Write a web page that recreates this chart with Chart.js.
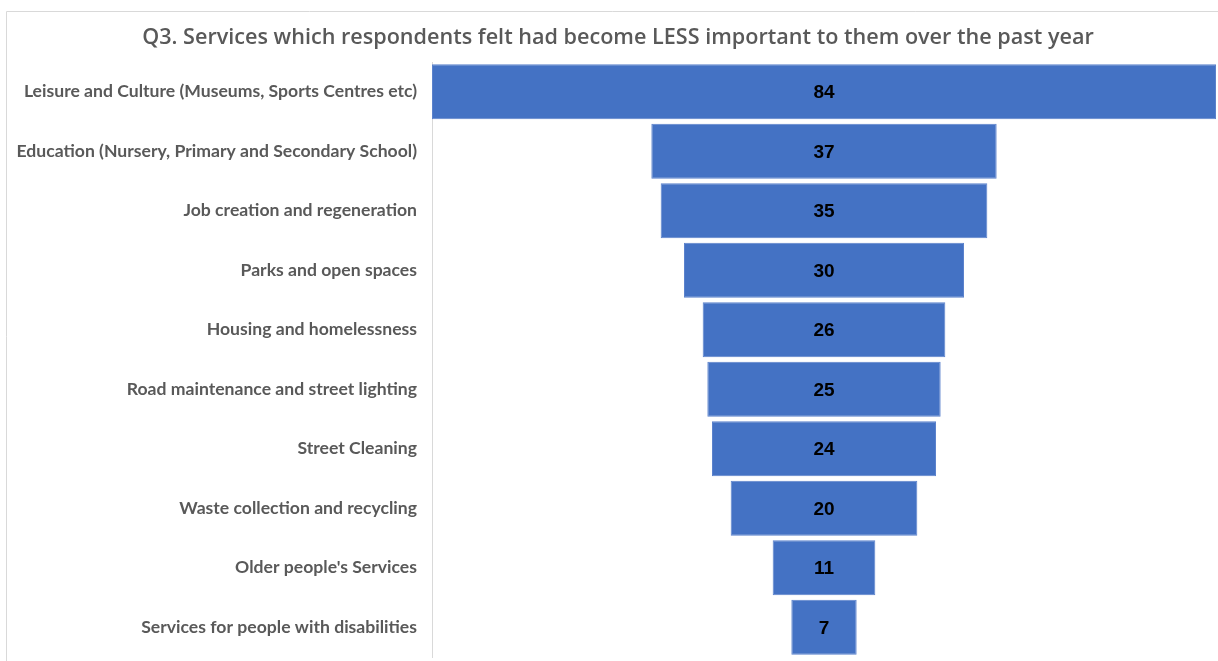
<!DOCTYPE html>
<html>
<head>
<meta charset="utf-8">
<script src="https://cdn.jsdelivr.net/npm/chart.js@4/dist/chart.umd.min.js"></script>
<style>
  html, body { margin: 0; padding: 0; background: #ffffff; overflow: hidden; }
  #wrap { position: relative; width: 1218px; height: 661px; }
  canvas { display: block; }
</style>
</head>
<body>
<div id="wrap"><canvas id="c" width="1218" height="661"></canvas></div>
<script>
const titleText = "Q3. Services which respondents felt had become LESS important to them over the past year";
const categories = [
  "Leisure and Culture (Museums, Sports Centres etc)",
  "Education (Nursery, Primary and Secondary School)",
  "Job creation and regeneration",
  "Parks and open spaces",
  "Housing and homelessness",
  "Road maintenance and street lighting",
  "Street Cleaning",
  "Waste collection and recycling",
  "Older people's Services",
  "Services for people with disabilities"
];
const values = [84, 37, 35, 30, 26, 25, 24, 20, 11, 7];
const maxValue = 84;

const framePlugin = {
  id: 'frame',
  beforeDraw(chart) {
    const ctx = chart.ctx;
    ctx.save();
    ctx.strokeStyle = '#d9d9d9';
    ctx.lineWidth = 1;
    ctx.beginPath();
    ctx.moveTo(6.5, 661);
    ctx.lineTo(6.5, 11.5);
    ctx.lineTo(1218, 11.5);
    ctx.stroke();
    ctx.restore();
  },
  afterDraw(chart) {
    const ctx = chart.ctx;
    ctx.save();
    ctx.font = '600 21.6px "Open Sans", "Noto Sans", sans-serif';
    ctx.fillStyle = '#595959';
    ctx.textAlign = 'center';
    ctx.textBaseline = 'middle';
    ctx.fillText(titleText, 618, 38);
    ctx.restore();
  }
};

const labelPlugin = {
  id: 'valueLabels',
  afterDatasetsDraw(chart) {
    const ctx = chart.ctx;
    const meta = chart.getDatasetMeta(0);
    ctx.save();
    ctx.font = 'bold 19px "Liberation Sans", Arial, sans-serif';
    ctx.fillStyle = '#000000';
    ctx.textAlign = 'center';
    ctx.textBaseline = 'middle';
    meta.data.forEach((bar, i) => {
      const cx = (bar.x + bar.base) / 2;
      ctx.fillText(String(values[i]), cx, bar.y + 1.5);
    });
    ctx.restore();
  }
};

new Chart(document.getElementById('c'), {
  type: 'bar',
  data: {
    labels: categories,
    datasets: [{
      data: values.map(v => [-v / 2, v / 2]),
      backgroundColor: '#4472C4',
      borderColor: '#5b82cc',
      borderWidth: 1,
      borderSkipped: false,
      barPercentage: 0.925,
      categoryPercentage: 1.0
    }]
  },
  options: {
    indexAxis: 'y',
    responsive: false,
    animation: false,
    layout: { padding: { left: 6, right: 2, top: 62, bottom: 4 } },
    plugins: {
      legend: { display: false },
      tooltip: { enabled: false },
      title: { display: false }
    },
    scales: {
      x: {
        display: false,
        min: -maxValue / 2,
        max: maxValue / 2,
        grid: { display: false },
        border: { display: false },
        ticks: { display: false }
      },
      y: {
        grid: { display: false, drawTicks: false },
        border: { display: true, color: '#d9d9d9', width: 1 },
        ticks: {
          color: '#595959',
          padding: 15,
          font: { family: 'Lato, "Open Sans", sans-serif', size: 17.6, weight: 'bold' }
        },
        afterFit(scale) {
          scale.width = 426;
          scale.paddingTop = 0;
          scale.paddingBottom = 0;
        }
      }
    }
  },
  plugins: [framePlugin, labelPlugin]
});
</script>
</body>
</html>
